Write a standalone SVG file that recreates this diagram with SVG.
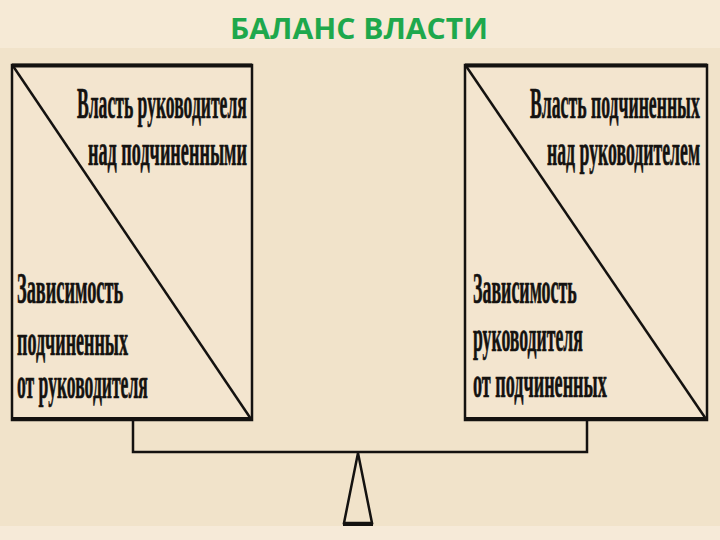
<svg xmlns="http://www.w3.org/2000/svg" width="720" height="540" viewBox="0 0 720 540">
<style>
.t{font-family:"Liberation Serif","Times New Roman",serif;font-weight:bold;font-size:44px;fill:#141210;stroke:#141210;stroke-width:0.7}
.box{fill:#f3e5cf;stroke:#141210;stroke-width:2.5}
.ln{fill:none;stroke:#141210;stroke-width:2.5}
</style>
<rect x="0" y="0" width="720" height="540" fill="#f1e3ca"/>
<rect x="0" y="0" width="720" height="48" fill="#f6ead6"/>
<rect x="0" y="526" width="720" height="14" fill="#f6ead8"/>
<text x="359" y="39" text-anchor="middle" font-family="'Open Sans','Noto Sans',sans-serif" font-weight="bold" font-size="28" fill="#1ea84c" textLength="258" lengthAdjust="spacingAndGlyphs">БАЛАНС ВЛАСТИ</text>
<g id="connectors">
<polyline class="ln" points="133,420 133,452 587,452 587,420" stroke-width="3"/>
<polygon points="358,453 344,523 372,523" fill="none" stroke="#141210" stroke-width="2.5"/>
<line x1="343" y1="524" x2="373" y2="524" stroke="#141210" stroke-width="4"/>
</g>
<g id="left">
<rect class="box" x="12" y="65" width="240" height="355"/>
<line x1="12" y1="65.5" x2="252" y2="65.5" stroke="#141210" stroke-width="4"/>
<line x1="12" y1="419" x2="252" y2="419" stroke="#141210" stroke-width="4"/>
<line class="ln" x1="13" y1="66" x2="251" y2="419"/>
<text class="t" transform="translate(77,118) scale(0.6,1)" textLength="283" lengthAdjust="spacingAndGlyphs">Власть руководителя</text>
<text class="t" transform="translate(88,165) scale(0.6,1)" textLength="265" lengthAdjust="spacingAndGlyphs">над подчиненными</text>
<text class="t" transform="translate(17,303) scale(0.6,1)" textLength="177" lengthAdjust="spacingAndGlyphs">Зависимость</text>
<text class="t" transform="translate(17,355) scale(0.6,1)" textLength="185" lengthAdjust="spacingAndGlyphs">подчиненных</text>
<text class="t" transform="translate(17,398) scale(0.6,1)" textLength="218" lengthAdjust="spacingAndGlyphs">от руководителя</text>
</g>
<g id="right">
<rect class="box" x="465" y="65" width="242" height="355"/>
<line x1="465" y1="65.5" x2="707" y2="65.5" stroke="#141210" stroke-width="4"/>
<line x1="465" y1="419" x2="707" y2="419" stroke="#141210" stroke-width="4"/>
<line class="ln" x1="466" y1="66" x2="706" y2="419"/>
<text class="t" transform="translate(530,118) scale(0.6,1)" textLength="283" lengthAdjust="spacingAndGlyphs">Власть подчиненных</text>
<text class="t" transform="translate(547,165) scale(0.6,1)" textLength="255" lengthAdjust="spacingAndGlyphs">над руководителем</text>
<text class="t" transform="translate(473,303) scale(0.6,1)" textLength="173" lengthAdjust="spacingAndGlyphs">Зависимость</text>
<text class="t" transform="translate(473,351) scale(0.6,1)" textLength="183" lengthAdjust="spacingAndGlyphs">руководителя</text>
<text class="t" transform="translate(473,397) scale(0.6,1)" textLength="223" lengthAdjust="spacingAndGlyphs">от подчиненных</text>
</g>
</svg>
